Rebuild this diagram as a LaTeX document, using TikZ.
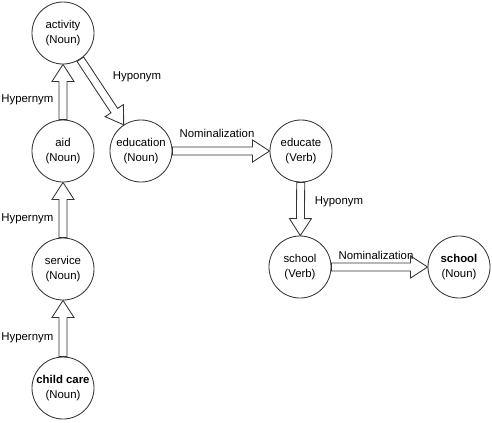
\documentclass[tikz,border=0pt]{standalone}
\usepackage{fontspec}
\setmainfont{Liberation Sans}
\usetikzlibrary{calc}

\tikzset{
  word/.style={circle, draw=black!80, line width=0.6pt, minimum size=1.55cm,
    inner sep=0pt, align=center, font=\fontsize{8.1}{10.6}\selectfont},
  rel/.style={font=\fontsize{8.1}{10}\selectfont, inner sep=1pt},
  hollow/.style={draw=black!80, line width=0.6pt, fill=white, line join=miter}
}

% freccia vuota tra due nodi
\newcommand{\blockarrow}[2]{%
  \path (#1) -- (#2) coordinate[pos=0] (ba-s) coordinate[pos=1] (ba-t);
  \coordinate (ba-b) at ($(ba-t)!0.425cm!(ba-s)$);
  \draw[hollow] ($(ba-s)!0.1cm!90:(ba-t)$) -- ($(ba-b)!0.1cm!-90:(ba-s)$)
    -- ($(ba-b)!0.275cm!-90:(ba-s)$) -- (ba-t) -- ($(ba-b)!0.275cm!90:(ba-s)$)
    -- ($(ba-b)!0.1cm!90:(ba-s)$) -- ($(ba-s)!0.1cm!-90:(ba-t)$) -- cycle;
}

\begin{document}
\begin{tikzpicture}[x=0.025cm, y=-0.025cm]
    \useasboundingbox (0,0) rectangle (492,422);

    % nodi
    \node[word] (activity) at (63,33) {activity\\(Noun)};
    \node[word] (aid) at (63,151) {aid\\(Noun)};
    \node[word] (service) at (63,269) {service\\(Noun)};
    \node[word] (childcare) at (63,388) {\textbf{child care}\\(Noun)};
    \node[word] (education) at (141,151) {education\\(Noun)};
    \node[word] (educate) at (301,151) {educate\\(Verb)};
    \node[word] (schoolv) at (300,267) {school\\(Verb)};
    \node[word] (schooln) at (459,267) {\textbf{school}\\(Noun)};

    % frecce
    \blockarrow{aid}{activity}
    \blockarrow{service}{aid}
    \blockarrow{childcare}{service}
    \blockarrow{activity}{education}
    \blockarrow{education}{educate}
    \blockarrow{educate}{schoolv}
    \blockarrow{schoolv}{schooln}

    % etichette
    \node[rel, left] (hyper1) at (55,100) {Hypernym};
    \node[rel, left] (hyper2) at (55,219) {Hypernym};
    \node[rel, left] (hyper3) at (55,338) {Hypernym};
    \node[rel] (hypo1) at (137,77) {Hyponym};
    \node[rel] (nomin1) at (217,133) {Nominalization};
    \node[rel] (hypo2) at (339,202) {Hyponym};
    \node[rel] (nomin2) at (376,255) {Nominalization};
\end{tikzpicture}
\end{document}
